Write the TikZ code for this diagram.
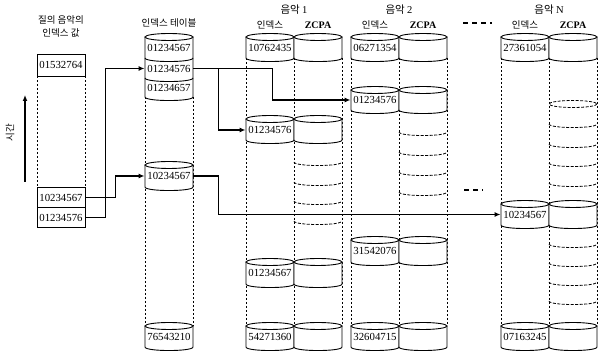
\documentclass[tikz,border=0pt]{standalone}
\usepackage{fontspec}
\setmainfont{Liberation Serif}
\newfontfamily\krfont{Noto Sans CJK KR}
\usetikzlibrary{arrows.meta}

\tikzset{every picture/.style={line width=0.9pt}}
\tikzset{
  cell/.style={inner sep=0pt, minimum width=48pt, font=\fontsize{10.8}{12}\selectfont},
  qbox/.style={draw, inner sep=0pt, minimum width=48pt, minimum height=20pt, font=\fontsize{10.8}{12}\selectfont},
  krlabel/.style={inner sep=0.75pt, font=\krfont\fontsize{9.5}{11}\selectfont},
  headlabel/.style={inner sep=0.75pt, font=\krfont\fontsize{10.5}{12}\selectfont},
  zcpalabel/.style={inner sep=0.75pt, font=\bfseries\fontsize{10}{12}\selectfont},
  colline/.style={line width=0.8pt, dash pattern=on 2.5pt off 1.5pt},
  subcell/.style={line width=0.8pt, dash pattern=on 3pt off 1.5pt},
  link/.style={line width=1.3pt, -{Latex[length=6pt,width=5pt]}},
  gapdash/.style={line width=1.8pt, dash pattern=on 5pt off 4pt},
}
% can: left x, right x, top y, bottom y
\newcommand{\cancell}[4]{%
  \fill [white] (#1,#3) -- (#1,#4) .. controls (#1,#4+4.7) and (#2,#4+4.7) .. (#2,#4) -- (#2,#3) -- cycle;
  \draw (#1,#3) -- (#1,#4) .. controls (#1,#4+4.7) and (#2,#4+4.7) .. (#2,#4) -- (#2,#3);
  \draw [fill=white] ({(#1+#2)/2},#3) ellipse [x radius={(#2-#1)/2}, y radius=3.5];
}

\begin{document}
\begin{tikzpicture}[x=1pt,y=1pt,yscale=-1,xscale=1]
    \useasboundingbox (0,0) rectangle (598,352);

    %Dashed column lines
    \draw [colline] (37,76) -- (37,188) (85,76) -- (85,188) ;
    \draw [colline] (145,97) -- (145,326) (193,97) -- (193,326) ;
    \foreach \x in {246,294,342,351,399,447,501,549,597}
      {\draw [colline] (\x,58) -- (\x,326) ;}

    %Shape: Can (index table)
    \cancell{145}{193}{37}{97}
    \draw (145,58) .. controls (145,62.7) and (193,62.7) .. (193,58) ;
    \draw (145,78) .. controls (145,82.7) and (193,82.7) .. (193,78) ;
    \cancell{145}{193}{165}{187}
    \cancell{145}{193}{326}{347}

    %Shape: Can (music 1)
    \cancell{246}{294}{37}{58} \cancell{294}{342}{37}{58}
    \cancell{246}{294}{119}{140} \cancell{294}{342}{119}{140}
    \cancell{246}{294}{262}{284} \cancell{294}{342}{262}{284}
    \cancell{246}{294}{326}{347} \cancell{294}{342}{326}{347}

    %Shape: Can (music 2)
    \cancell{351}{399}{37}{58} \cancell{399}{447}{37}{58}
    \cancell{351}{399}{90}{110} \cancell{399}{447}{90}{110}
    \cancell{351}{399}{240}{262} \cancell{399}{447}{240}{262}
    \cancell{351}{399}{326}{347} \cancell{399}{447}{326}{347}

    %Shape: Can (music N)
    \cancell{501}{549}{37}{58} \cancell{549}{597}{37}{58}
    \cancell{501}{549}{204}{225} \cancell{549}{597}{204}{225}
    \cancell{501}{549}{326}{347} \cancell{549}{597}{326}{347}

    %ZCPA sub cells
    \foreach \y in {162,182,201,221}
      {\draw [subcell] (294,\y) .. controls (294,\y+4.7) and (342,\y+4.7) .. (342,\y) ;}
    \foreach \y in {132,152,172,192}
      {\draw [subcell] (399,\y) .. controls (399,\y+4.7) and (447,\y+4.7) .. (447,\y) ;}
    \draw [subcell, fill=white] (573,104) ellipse [x radius=24, y radius=3.5] ;
    \foreach \y in {124,144,163,183,244,263,282,301}
      {\draw [subcell] (549,\y) .. controls (549,\y+4.7) and (597,\y+4.7) .. (597,\y) ;}

    % Text Node
    \draw (61,20) node [krlabel] {질의 음악의};
    % Text Node
    \draw (61,33) node [krlabel] {인덱스 값};
    % Text Node
    \draw (169,23) node [krlabel] {인덱스 테이블};
    % Text Node
    \draw (10,133) node [krlabel, rotate=90] {시간};
    % Text Node
    \draw (294,10) node (head1) [headlabel] {음악 {\rmfamily 1}};
    \draw (399,10) node (head2) [headlabel] {음악 {\rmfamily 2}};
    \draw (549,10) node (headn) [headlabel] {음악 {\rmfamily N}};
    % Text Node
    \draw (270,25) node [krlabel] {인덱스};
    \draw (318,25) node [zcpalabel] {ZCPA};
    \draw (375,25) node [krlabel] {인덱스};
    \draw (423,25) node [zcpalabel] {ZCPA};
    \draw (525,25) node [krlabel] {인덱스};
    \draw (573,25) node [zcpalabel] {ZCPA};

    % Query boxes
    \draw (61,65) node (q1) [qbox, minimum height=22pt] {01532764};
    \draw (61,197.5) node (q2) [qbox] {10234567};
    \draw (61,217.5) node (q3) [qbox] {01234576};

    % Index table cells
    \draw (169,48) node (t1) [cell] {01234567};
    \draw (169,68.5) node (t2) [cell] {01234576};
    \draw (169,88) node (t3) [cell] {01234657};
    \draw (169,176) node (t4) [cell] {10234567};
    \draw (169,337) node (t5) [cell] {76543210};

    % Music 1 cells
    \draw (270,48) node (m1a) [cell] {10762435};
    \draw (270,130) node (m1b) [cell] {01234576};
    \draw (270,273) node (m1c) [cell] {01234567};
    \draw (270,337) node (m1d) [cell] {54271360};
    % Music 2 cells
    \draw (375,48) node (m2a) [cell] {06271354};
    \draw (375,100) node (m2b) [cell] {01234576};
    \draw (375,251) node (m2c) [cell] {31542076};
    \draw (375,337) node (m2d) [cell] {32604715};
    % Music N cells
    \draw (525,48) node (mna) [cell] {27361054};
    \draw (525,214.5) node (mnb) [cell] {10234567};
    \draw (525,337) node (mnc) [cell] {07163245};

    %Gap dashes
    \draw [gapdash] (463,23) -- (492,23) ;
    \draw [gapdash] (464,190) -- (483,190) ;

    %Time arrow
    \coordinate (tbot) at (25,182);
    \coordinate (ttop) at (25,95);
    \draw [link] (tbot) -- (ttop) ;

    %Links
    \draw [link] (q3.east) -- ++(20,0) |- (t2.west) ;
    \draw [link] (q2.east) -- ++(30,0) |- (t4.west) ;
    \draw [link] (t2.east) -- ++(25,0) coordinate (split) |- (m1b.west) ;
    \draw [link] (split) -- ++(54,0) |- (m2b.west) ;
    \draw [link] (t4.east) -- ++(25,0) |- (mnb.west) ;

\end{tikzpicture}
\end{document}
